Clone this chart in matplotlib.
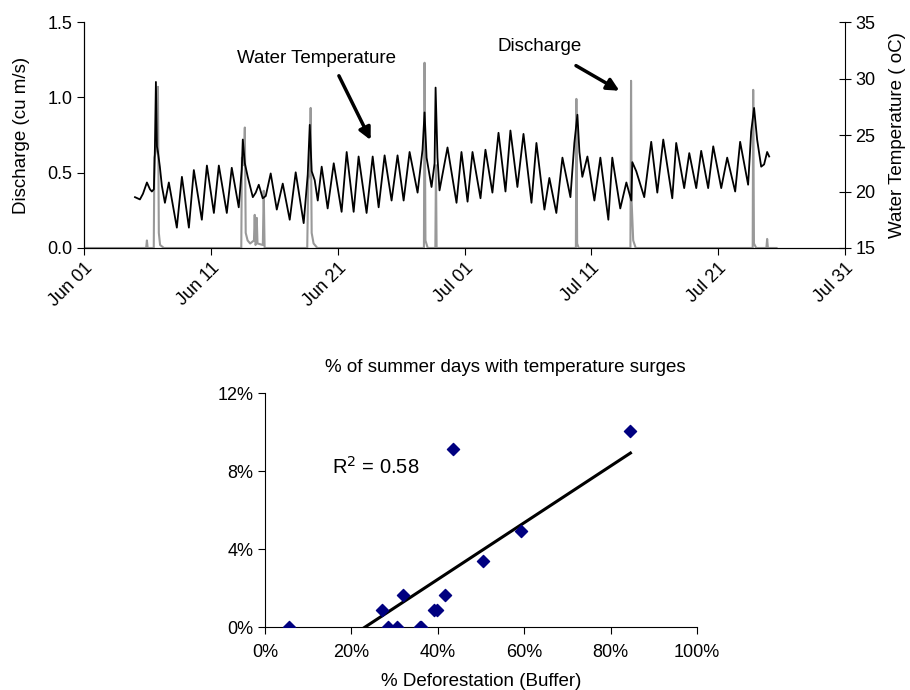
import numpy as np
import pandas as pd
import matplotlib
matplotlib.use('Agg')
import matplotlib.pyplot as plt
import matplotlib.dates as mdates

plt.rcParams['font.family'] = ['Liberation Sans', 'DejaVu Sans']

# ---- top panel: discharge and water temperature (days since Jun 01) ----
start = pd.Timestamp('2005-06-01')

temp_days = [4.02, 4.41, 4.65, 4.96, 5.20, 5.35, 5.51, 5.59, 5.67, 5.75, 5.83, 5.98, 6.14,
             6.38, 6.69, 7.32, 7.72, 8.27, 8.66, 9.29, 9.69, 10.24, 10.63, 11.26, 11.65,
             12.20, 12.44, 12.52, 12.68, 12.91, 13.31, 13.54, 13.78, 14.09, 14.33, 14.72,
             15.20, 15.67, 16.22, 16.69, 17.32, 17.64, 17.80, 17.95, 18.19, 18.43, 18.74,
             19.21, 19.69, 20.31, 20.71, 21.26, 21.65, 22.28, 22.76, 23.23, 23.70, 24.25,
             24.72, 25.20, 25.67, 26.30, 26.69, 26.85, 27.01, 27.40, 27.64, 27.72, 27.87,
             28.03, 28.66, 29.37, 29.76, 30.24, 30.63, 31.26, 31.65, 32.20, 32.68, 33.23,
             33.62, 34.17, 34.65, 35.28, 35.67, 36.30, 36.69, 37.24, 37.72, 38.35, 38.66,
             38.90, 39.06, 39.29, 39.69, 40.24, 40.71, 41.34, 41.65, 42.28, 42.76, 43.15,
             43.23, 43.54, 44.17, 44.72, 45.20, 45.67, 46.38, 46.69, 47.32, 47.72, 48.27,
             48.66, 49.21, 49.61, 50.24, 50.71, 51.34, 51.73, 52.36, 52.60, 52.83, 53.07,
             53.39, 53.62, 53.86, 54.02]
temp_vals = [19.5, 19.3, 19.8, 20.8, 20.2, 20.0, 20.2, 23.8, 29.7, 24.0, 23.5, 22.2, 20.5,
             19.0, 20.8, 16.8, 21.3, 16.8, 21.9, 17.5, 22.3, 18.1, 22.3, 18.1, 22.1,
             18.6, 22.0, 24.6, 22.5, 21.3, 19.5, 19.9, 20.6, 19.4, 19.6, 21.6,
             18.4, 20.7, 17.5, 21.7, 17.2, 21.5, 25.9, 21.8, 21.0, 19.2, 22.2,
             18.5, 22.5, 18.2, 23.5, 18.2, 23.1, 18.1, 23.1, 18.6, 23.2, 19.2,
             23.2, 19.2, 23.5, 19.9, 23.7, 27.0, 23.0, 20.4, 22.5, 29.2, 23.0,
             20.1, 23.9, 19.0, 23.5, 19.1, 23.5, 19.4, 23.7, 19.9, 25.2, 20.0,
             25.4, 20.4, 25.1, 19.0, 24.3, 18.4, 21.2, 18.1, 23.0, 19.5, 24.3,
             26.8, 23.5, 21.3, 23.1, 19.2, 23.0, 17.5, 23.0, 18.5, 20.8, 19.2,
             22.6, 21.8, 19.5, 24.4, 19.9, 24.6, 19.4, 24.3, 20.3, 23.4, 20.3,
             23.6, 20.3, 24.0, 20.3, 23.0, 20.0, 24.4, 20.6, 25.3, 27.4, 24.6,
             22.2, 22.4, 23.5, 23.1]

flow_days = [0.0, 4.90, 4.96, 5.02, 5.50, 5.55, 5.70, 5.83, 5.90, 6.00, 6.30,
             12.40, 12.45, 12.60, 12.68, 12.75, 12.90, 13.10, 13.40, 13.46, 13.52, 13.58,
             13.62, 13.68, 14.10, 14.17, 14.24, 17.60, 17.68, 17.80, 17.87, 17.95, 18.10,
             18.40, 26.80, 26.85, 26.92, 27.10, 27.70, 27.75, 27.80, 38.78, 38.82, 38.88,
             39.00, 43.08, 43.13, 43.18, 43.30, 43.50, 52.72, 52.76, 52.82, 53.00, 53.80,
             53.86, 53.92, 54.60]
flow_vals = [0.0, 0.0, 0.05, 0.0, 0.0, 0.60, 0.65, 1.07, 0.10, 0.02, 0.0,
             0.0, 0.60, 0.55, 0.80, 0.10, 0.05, 0.03, 0.05, 0.22, 0.02, 0.03,
             0.20, 0.03, 0.02, 0.38, 0.0, 0.0, 0.45, 0.50, 0.93, 0.10, 0.03,
             0.0, 0.0, 1.23, 0.05, 0.0, 0.0, 0.55, 0.0, 0.0, 0.99, 0.03,
             0.0, 0.0, 1.11, 0.30, 0.05, 0.0, 0.0, 1.05, 0.03, 0.0, 0.0,
             0.06, 0.0, 0.0]

# ---- bottom panel: deforestation vs temperature surges (%) ----
deforest = [5.6, 27.0, 28.5, 30.5, 32.0, 35.8, 36.2, 39.2, 39.8, 41.7, 43.6, 50.5, 59.3, 84.6]
surge_days = [0.0, 0.85, 0.0, 0.0, 1.64, 0.0, 0.0, 0.85, 0.85, 1.64, 9.15, 3.39, 4.92, 10.07]

fig = plt.figure(figsize=(9.1, 6.9), dpi=100)

ax = fig.add_axes([0.0923, 0.6406, 0.8363, 0.3274])
t_flow = start + pd.to_timedelta(flow_days, unit='D')
t_temp = start + pd.to_timedelta(temp_days, unit='D')
ax.plot(t_flow, flow_vals, color='#999999', lw=1.5)
ax.set_ylim(0, 1.5)
ax.set_yticks([0, 0.5, 1.0, 1.5])
ax.yaxis.set_major_formatter(matplotlib.ticker.FormatStrFormatter('%.1f'))
ax.set_xlim(start, start + pd.Timedelta(days=60))
ax.xaxis.set_major_locator(mdates.DayLocator(bymonthday=[1, 11, 21, 31]))
ax.xaxis.set_major_formatter(mdates.DateFormatter('%b %d'))
ax.set_ylabel('Discharge (cu m/s)', fontsize=13.5, labelpad=12)
ax.spines['top'].set_visible(False)
ax.spines['right'].set_visible(False)
ax.tick_params(axis='both', labelsize=13, direction='out', length=5)
for lab in ax.get_xticklabels():
    lab.set_rotation(45)
    lab.set_ha('right')
    lab.set_rotation_mode('anchor')

ax2 = ax.twinx()
ax2.plot(t_temp, temp_vals, color='black', lw=1.3)
ax2.set_ylim(15, 35)
ax2.set_yticks([15, 20, 25, 30, 35])
ax2.spines['top'].set_visible(False)
ax2.tick_params(axis='y', labelsize=13, direction='inout', length=8)
ax2.set_ylabel('Water Temperature ( oC)', fontsize=13.5, labelpad=10)

ax.annotate('', xy=(start + pd.Timedelta(days=22.7), 0.70),
            xytext=(start + pd.Timedelta(days=20.0), 1.16),
            arrowprops=dict(arrowstyle='-|>', lw=2.5, color='black', mutation_scale=18))
ax.text(start + pd.Timedelta(days=18.3), 1.26, 'Water Temperature', fontsize=13.5,
        ha='center', va='center')
ax.annotate('', xy=(start + pd.Timedelta(days=42.4), 1.035),
            xytext=(start + pd.Timedelta(days=38.6), 1.22),
            arrowprops=dict(arrowstyle='-|>', lw=2.5, color='black', mutation_scale=18))
ax.text(start + pd.Timedelta(days=35.9), 1.34, 'Discharge', fontsize=13.5,
        ha='center', va='center')

# bottom scatter
bx = fig.add_axes([0.2912, 0.0913, 0.4747, 0.3391])
bx.scatter(deforest, surge_days, marker='D', s=38, color='#000080', zorder=3)
slope, icpt = np.polyfit(deforest, surge_days, 1)
xs = np.array([min(deforest), max(deforest)])
bx.plot(xs, slope * xs + icpt, color='black', lw=2.2)
bx.set_xlim(0, 100)
bx.set_ylim(0, 12)
bx.set_xticks([0, 20, 40, 60, 80, 100])
bx.set_yticks([0, 4, 8, 12])
bx.set_xticklabels([f'{v}%' for v in [0, 20, 40, 60, 80, 100]])
bx.set_yticklabels([f'{v}%' for v in [0, 4, 8, 12]])
bx.spines['top'].set_visible(False)
bx.spines['right'].set_visible(False)
bx.tick_params(axis='both', labelsize=13, direction='out', length=5)
bx.tick_params(axis='x', pad=7)
bx.set_xlabel('% Deforestation (Buffer)', fontsize=13.5, labelpad=9)
bx.text(25.7, 8.2, 'R$^2$ = 0.58', fontsize=14.5, ha='center', va='center')
fig.text(505 / 910, 1 - 367 / 690, '% of summer days with temperature surges',
         fontsize=13.5, ha='center', va='center')

fig.savefig('out.png', dpi=100)
